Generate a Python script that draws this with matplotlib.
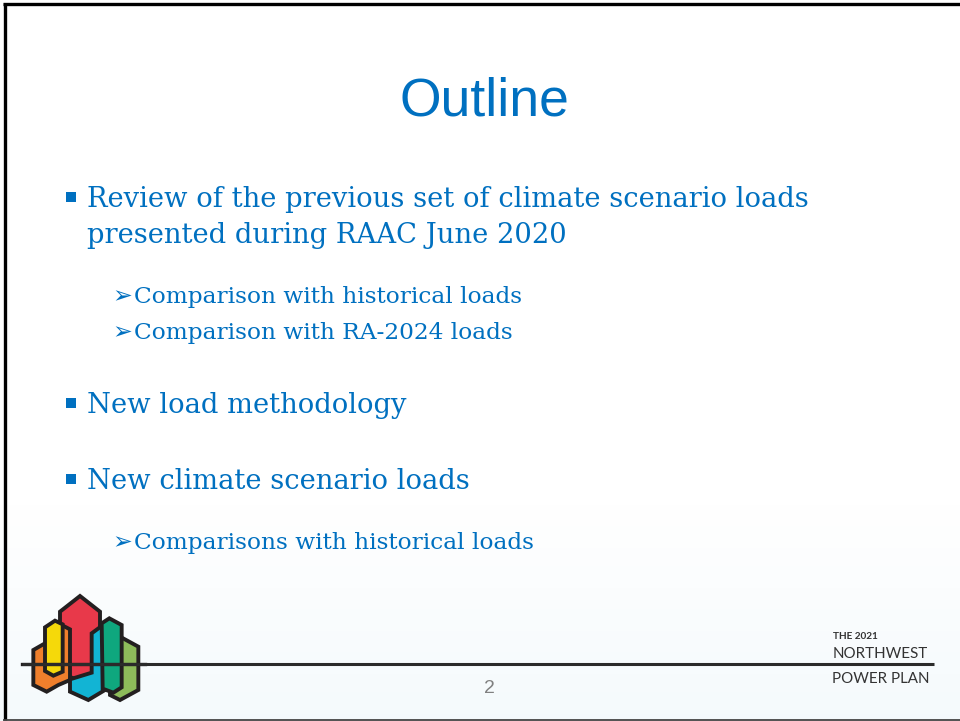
import matplotlib
matplotlib.use("Agg")
import matplotlib.pyplot as plt
from matplotlib.patches import Polygon
import numpy as np

# ---- slide content ----
title = "Outline"
main_bullets = [
    "Review of the previous set of climate scenario loads",
    "presented during RAAC June 2020",
    "New load methodology",
    "New climate scenario loads",
]
main_has_marker = [True, False, True, True]
main_baselines = [207, 243, 413, 489]
sub_bullets = [
    "Comparison with historical loads",
    "Comparison with RA-2024 loads",
    "Comparisons with historical loads",
]
sub_baselines = [303, 339, 549]
footer_lines = ["THE 2021", "NORTHWEST", "POWER PLAN"]
page_number = "2"

BLUE = "#0070C0"
W, H = 960, 721

fig = plt.figure(figsize=(W / 100, H / 100), dpi=100)
ax = fig.add_axes([0, 0, 1, 1])
ax.set_xlim(0, W)
ax.set_ylim(H, 0)
ax.axis("off")

# subtle background gradient towards bottom
grad = np.linspace(0, 1, 200).reshape(-1, 1)
grad = np.clip((grad - 0.7) / 0.3, 0, 1)
c0 = np.array([1.0, 1.0, 1.0])
c1 = np.array([0.96, 0.98, 0.99])
img = c0 + (c1 - c0) * grad[..., None]
img = np.repeat(img, 2, axis=1)
ax.imshow(img, extent=[0, W, H, 0], aspect="auto", zorder=0)

# borders
ax.plot([3, W], [4, 4], color="black", lw=2.4, solid_capstyle="butt", zorder=5)
ax.plot([4.5, 4.5], [3, 720], color="black", lw=2.4, solid_capstyle="butt", zorder=5)
ax.plot([3, W], [719.5, 719.5], color="#444444", lw=1.3, solid_capstyle="butt", zorder=5)

# title
ax.text(484.5, 115, title, fontsize=38.5, color=BLUE, family="Liberation Sans",
        ha="center", va="baseline")

# main bullets
for txt, yb, mk in zip(main_bullets, main_baselines, main_has_marker):
    ax.text(87, yb, txt, fontsize=19.7, color=BLUE, family="DejaVu Serif",
            ha="left", va="baseline")
    if mk:
        ax.plot([70.5], [yb - 10.5], marker="s", markersize=7, color=BLUE,
                markeredgewidth=0, linestyle="none")

# sub bullets
for txt, yb in zip(sub_bullets, sub_baselines):
    ax.text(112, yb, "\u27a2", fontsize=17, color=BLUE, family="DejaVu Sans",
            ha="left", va="baseline")
    ax.text(134, yb, txt, fontsize=16.75, color=BLUE, family="DejaVu Serif",
            ha="left", va="baseline")

# footer horizontal rule
ax.plot([22, 934], [664, 664], color="#2b2b2b", lw=2.2, solid_capstyle="butt", zorder=3)

# logo (pixel coordinates from zoom, origin 20,590 at 3x)
def zc(pts):
    return [(20 + x / 3.0, 590 + y / 3.0) for x, y in pts]

lw_logo = 2.8
shapes = [
    ("#8dbb5a", [(300, 140), (355, 170), (355, 300), (300, 330), (270, 315), (270, 160)]),
    ("#e8394a", [(120, 65), (180, 18), (240, 65), (240, 248), (180, 272), (120, 250)]),
    ("#f07f2c", [(40, 180), (75, 160), (115, 100), (150, 118), (150, 270), (115, 285), (80, 305), (40, 285)]),
    ("#f5d90a", [(75, 112), (105, 92), (128, 103), (128, 245), (100, 257), (75, 243)]),
    ("#12b4d4", [(150, 268), (215, 248), (215, 130), (245, 108), (255, 115), (255, 300), (205, 330), (150, 305)]),
    ("#0fa77e", [(245, 100), (268, 85), (305, 105), (305, 292), (280, 308), (248, 296)]),
]
for i, (col, pts) in enumerate(shapes):
    ax.add_patch(Polygon(zc(pts), closed=True, facecolor=col, edgecolor="#231f20",
                         lw=lw_logo, joinstyle="miter", zorder=2 + i * 0.01))
ax.plot([22, 145], [664, 664], color="#231f20", lw=2.4, zorder=2.5)

# footer text
ax.text(833, 639, footer_lines[0], fontsize=7.2, color="#333333", family="Lato",
        weight="bold", ha="left", va="baseline")
ax.text(832.5, 658, footer_lines[1], fontsize=10.9, color="#333333", family="Lato",
        ha="left", va="baseline")
ax.text(832.5, 683, footer_lines[2], fontsize=10.9, color="#333333", family="Lato",
        ha="left", va="baseline")

# page number
ax.text(489, 693, page_number, fontsize=14, color="#808080", family="Liberation Sans",
        ha="center", va="baseline")

fig.savefig("out.png", dpi=100)
